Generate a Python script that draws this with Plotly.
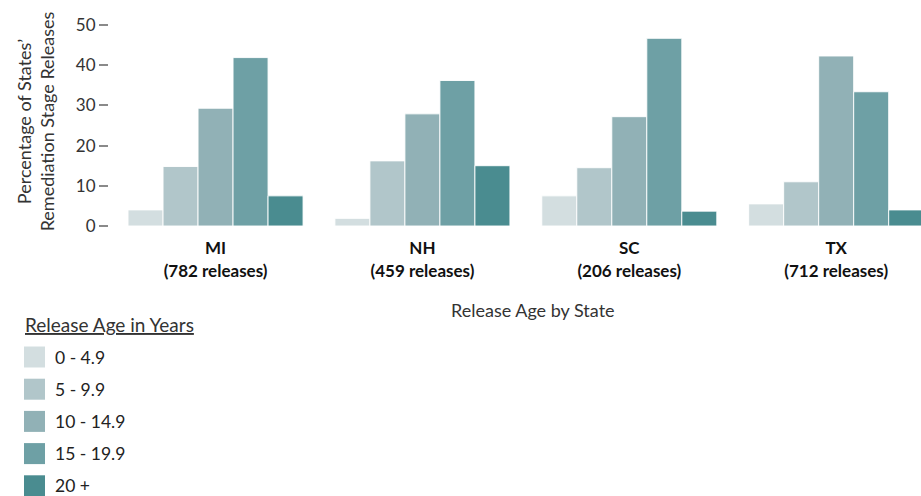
import plotly.graph_objects as go

# Release-age distribution of remediation-stage releases, by state
states = ["MI", "NH", "SC", "TX"]
release_counts = [782, 459, 206, 712]
age_groups = ["0 - 4.9", "5 - 9.9", "10 - 14.9", "15 - 19.9", "20 +"]
colors = ["#d3dee0", "#b1c6ca", "#91b1b6", "#6ea0a5", "#4a8c90"]

# percentage of each state's releases falling in each age group
pct_0_5 = [4.0, 1.9, 7.5, 5.5]
pct_5_10 = [14.8, 16.2, 14.5, 11.0]
pct_10_15 = [29.3, 27.9, 27.2, 42.3]
pct_15_20 = [41.9, 36.2, 46.7, 33.4]
pct_20_plus = [7.5, 15.0, 3.7, 4.0]
series = [pct_0_5, pct_5_10, pct_10_15, pct_15_20, pct_20_plus]

y_ticks = [0, 10, 20, 30, 40, 50]

FONT = "Lato, 'Open Sans', sans-serif"
W, H = 921, 496
M_L, M_R, M_T, M_B = 109, 0, 17, 270

fig = go.Figure()
for name, vals, col in zip(age_groups, series, colors):
    fig.add_trace(go.Bar(
        x=states, y=vals, name=name,
        marker=dict(color=col, line=dict(color="rgba(255,255,255,0.9)", width=1)),
        showlegend=False,
        hovertemplate="%{x}<br>" + name + ": %{y}%<extra></extra>",
    ))

tick_text = [f"<b>{s}</b><br><b>({n} releases)</b>" for s, n in zip(states, release_counts)]

fig.update_layout(
    width=W, height=H,
    margin=dict(l=M_L, r=M_R, t=M_T, b=M_B),
    paper_bgcolor="white", plot_bgcolor="white",
    barmode="group", bargap=0.154, bargroupgap=0,
    font=dict(family=FONT, color="#222"),
    xaxis=dict(
        type="category", range=[-0.515, 3.41],
        tickmode="array", tickvals=states, ticktext=tick_text,
        tickfont=dict(size=17, color="#111"),
        ticks="outside", ticklen=7, tickcolor="rgba(0,0,0,0)",
        showgrid=False, showline=False, zeroline=False,
    ),
    yaxis=dict(
        range=[0, 52], tickvals=y_ticks,
        tickfont=dict(size=17, color="#333"),
        ticks="outside", ticklen=9, tickwidth=2, tickcolor="#8a8a8a",
        showgrid=False, showline=False, zeroline=False,
        title=dict(text="Percentage of States’<br>Remediation Stage Releases",
                   font=dict(size=18, color="#333"), standoff=16),
    ),
)

plot_h = H - M_T - M_B
plot_w = W - M_L - M_R


def px_x(px):
    return (px - M_L) / plot_w


def px_y(py):
    return (H - M_B - py) / plot_h


# axis title below the state labels
fig.add_annotation(text="Release Age by State", xref="paper", yref="paper",
                   x=px_x(533), y=px_y(310), yanchor="middle", showarrow=False,
                   font=dict(size=18, color="#333"))

# legend block
fig.add_annotation(text="<u>Release Age in Years</u>", xref="paper", yref="paper",
                   x=px_x(23), y=px_y(324), xanchor="left", yanchor="middle",
                   showarrow=False, font=dict(size=19, color="#333"))
row0, row_step, sw = 357, 32.2, 21
for i, (name, col) in enumerate(zip(age_groups, colors)):
    cy = row0 + i * row_step
    fig.add_shape(type="rect", xref="paper", yref="paper",
                  x0=px_x(24), x1=px_x(24 + sw),
                  y0=px_y(cy - sw / 2), y1=px_y(cy + sw / 2),
                  fillcolor=col, line=dict(width=0))
    fig.add_annotation(text=name, xref="paper", yref="paper",
                       x=px_x(53), y=px_y(cy), xanchor="left", yanchor="middle",
                       showarrow=False, font=dict(size=17.5, color="#222"))

fig.write_html("out.html")
